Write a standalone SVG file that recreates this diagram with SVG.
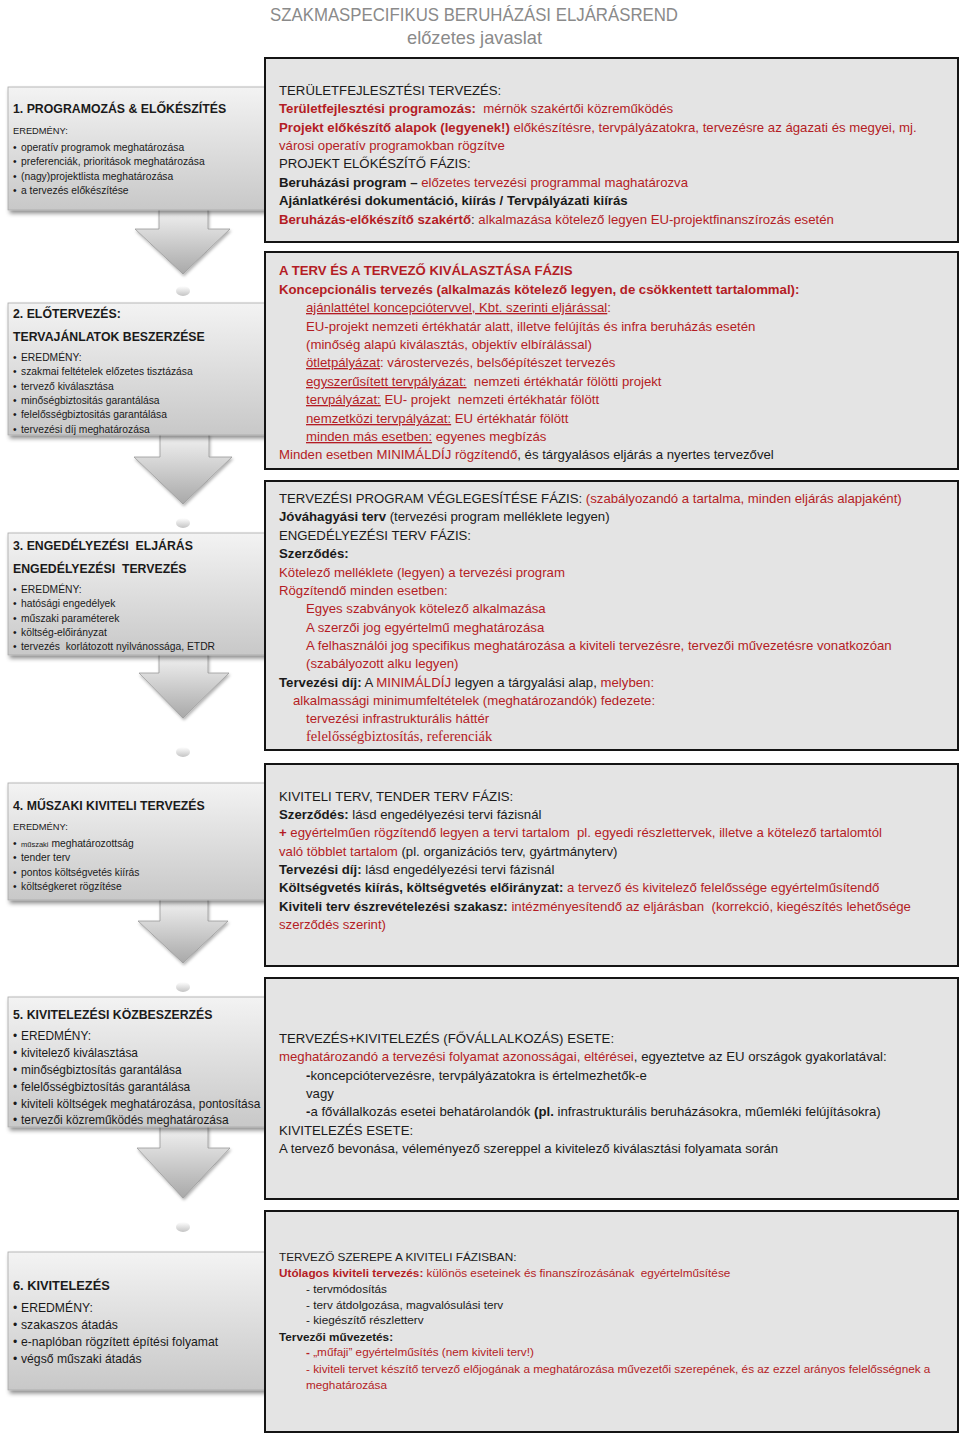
<svg xmlns="http://www.w3.org/2000/svg" width="960" height="1435" viewBox="0 0 960 1435">
<defs>
<style>
.t{font-family:"Liberation Sans",Arial,sans-serif;font-size:13.2px;fill:#1a1a1a}
.s{font-size:11.75px}
.l{font-family:"Liberation Sans",Arial,sans-serif;font-size:10.3px;fill:#1a1a1a}
.m{font-size:11.9px}
.h{font-family:"Liberation Sans",Arial,sans-serif;font-size:12.3px;font-weight:bold;fill:#1a1a1a}
.r{fill:#b41c24}
.b{font-weight:bold}
.u{text-decoration:underline}
.serif{font-family:"Liberation Serif","Times New Roman",serif}
.title{font-family:"Liberation Sans",Arial,sans-serif;font-size:19px;fill:#8a8a8a}
.rbox{fill:#e4e4e4;stroke:#141414;stroke-width:2}
.lbox{fill:url(#lg);stroke:#a8a8a8;stroke-width:0.8;filter:url(#sh)}
.arr{fill:url(#ag);stroke:#9a9a9a;stroke-width:0.8;filter:url(#sh2)}
.blob{fill:url(#bg)}
</style>
<linearGradient id="lg" x1="0" y1="0" x2="0" y2="1">
<stop offset="0" stop-color="#f3f3f3"/><stop offset="1" stop-color="#c8c8c8"/>
</linearGradient>
<linearGradient id="ag" x1="0" y1="0" x2="0" y2="1">
<stop offset="0" stop-color="#f2f2f2"/><stop offset="1" stop-color="#a9a9a9"/>
</linearGradient>
<linearGradient id="bg" x1="0" y1="0" x2="0" y2="1">
<stop offset="0" stop-color="#ffffff"/><stop offset="1" stop-color="#c4c4c4"/>
</linearGradient>
<filter id="sh" x="-5%" y="-5%" width="115%" height="125%">
<feDropShadow dx="2" dy="3" stdDeviation="2" flood-color="#000" flood-opacity="0.45"/>
</filter>
<filter id="sh2" x="-10%" y="-10%" width="130%" height="130%">
<feDropShadow dx="1" dy="2" stdDeviation="1.5" flood-color="#000" flood-opacity="0.3"/>
</filter>
</defs>
<rect width="960" height="1435" fill="#ffffff"/>

<g id="title">
<text class="title" x="270" y="21" textLength="408" lengthAdjust="spacingAndGlyphs">SZAKMASPECIFIKUS BERUHÁZÁSI ELJÁRÁSREND</text>
<text class="title" x="407" y="44" textLength="135" lengthAdjust="spacingAndGlyphs">előzetes javaslat</text>
</g>

<g id="connectors">
<path class="arr" d="M159,209 H208 V229 H230 L183,274 L135,229 H159 Z"/>
<ellipse class="blob" cx="183" cy="291" rx="7" ry="5"/>
<path class="arr" d="M160,434 H209 V457 H232 L183,504 L134,457 H160 Z"/>
<ellipse class="blob" cx="183" cy="523" rx="7" ry="5"/>
<path class="arr" d="M159,654 H208 V673 H229 L183,718 L139,673 H159 Z"/>
<ellipse class="blob" cx="183" cy="752" rx="7" ry="5"/>
<path class="arr" d="M160,899 H208 V921 H228 L183,963 L138,921 H160 Z"/>
<ellipse class="blob" cx="183" cy="987" rx="7" ry="5"/>
<path class="arr" d="M160,1126 H208 V1148 H230 L183,1198 L137,1148 H160 Z"/>
<ellipse class="blob" cx="183" cy="1227" rx="7" ry="5"/>
</g>

<g id="node-1">
<rect class="lbox" x="8" y="87" width="258" height="123"/>
<text class="h" x="13" y="113">1. PROGRAMOZÁS &amp; ELŐKÉSZÍTÉS</text>
<text class="l" x="13" y="134" style="font-size:9.3px">EREDMÉNY:</text>
<text class="l" x="13" y="151">•<tspan x="21">operatív programok meghatározása</tspan></text>
<text class="l" x="13" y="165">•<tspan x="21">preferenciák, prioritások meghatározása</tspan></text>
<text class="l" x="13" y="180">•<tspan x="21">(nagy)projektlista meghatározása</tspan></text>
<text class="l" x="13" y="194">•<tspan x="21">a tervezés előkészítése</tspan></text>
</g>

<g id="node-2">
<rect class="lbox" x="8" y="303" width="258" height="132"/>
<text class="h" x="13" y="318">2. ELŐTERVEZÉS:</text>
<text class="h" x="13" y="341">TERVAJÁNLATOK BESZERZÉSE</text>
<text class="l" x="13" y="361">•<tspan x="21">EREDMÉNY:</tspan></text>
<text class="l" x="13" y="375">•<tspan x="21">szakmai feltételek előzetes tisztázása</tspan></text>
<text class="l" x="13" y="390">•<tspan x="21">tervező kiválasztása</tspan></text>
<text class="l" x="13" y="404">•<tspan x="21">minőségbiztositás garantálása</tspan></text>
<text class="l" x="13" y="418">•<tspan x="21">felelősségbiztositás garantálása</tspan></text>
<text class="l" x="13" y="433">•<tspan x="21">tervezési díj meghatározása</tspan></text>
</g>

<g id="node-3">
<rect class="lbox" x="8" y="533" width="258" height="122"/>
<text class="h" x="13" y="550" xml:space="preserve">3. ENGEDÉLYEZÉSI  ELJÁRÁS</text>
<text class="h" x="13" y="573" xml:space="preserve">ENGEDÉLYEZÉSI  TERVEZÉS</text>
<text class="l" x="13" y="593">•<tspan x="21">EREDMÉNY:</tspan></text>
<text class="l" x="13" y="607">•<tspan x="21">hatósági engedélyek</tspan></text>
<text class="l" x="13" y="622">•<tspan x="21">műszaki paraméterek</tspan></text>
<text class="l" x="13" y="636">•<tspan x="21">költség-előirányzat</tspan></text>
<text class="l" x="13" y="650" xml:space="preserve">•<tspan x="21">tervezés  korlátozott nyilvánossága, ETDR</tspan></text>
</g>

<g id="node-4">
<rect class="lbox" x="8" y="783" width="258" height="117"/>
<text class="h" x="13" y="810">4. MŰSZAKI KIVITELI TERVEZÉS</text>
<text class="l" x="13" y="830" style="font-size:9.3px">EREDMÉNY:</text>
<text class="l" x="13" y="847">•<tspan x="21" style="font-size:7.5px">műszaki</tspan> meghatározottság</text>
<text class="l" x="13" y="861">•<tspan x="21">tender terv</tspan></text>
<text class="l" x="13" y="876">•<tspan x="21">pontos költségvetés kiírás</tspan></text>
<text class="l" x="13" y="890">•<tspan x="21">költségkeret rögzítése</tspan></text>
</g>

<g id="node-5">
<rect class="lbox" x="8" y="997" width="258" height="130"/>
<text class="h" x="13" y="1019">5. KIVITELEZÉSI KÖZBESZERZÉS</text>
<text class="l m" x="13" y="1040">•<tspan x="21">EREDMÉNY:</tspan></text>
<text class="l m" x="13" y="1057">•<tspan x="21">kivitelező kiválasztása</tspan></text>
<text class="l m" x="13" y="1074">•<tspan x="21">minőségbiztosítás garantálása</tspan></text>
<text class="l m" x="13" y="1091">•<tspan x="21">felelősségbiztosítás garantálása</tspan></text>
<text class="l m" x="13" y="1108">•<tspan x="21">kiviteli költségek meghatározása, pontosítása</tspan></text>
<text class="l m" x="13" y="1124">•<tspan x="21">tervezői közreműködés meghatározása</tspan></text>
</g>

<g id="node-6">
<rect class="lbox" x="8" y="1252" width="258" height="138"/>
<text class="h" x="13" y="1290" style="font-size:12.8px">6. KIVITELEZÉS</text>
<text class="l" x="13" y="1312" style="font-size:12.2px">•<tspan x="21">EREDMÉNY:</tspan></text>
<text class="l" x="13" y="1329" style="font-size:12.2px">•<tspan x="21">szakaszos átadás</tspan></text>
<text class="l" x="13" y="1346" style="font-size:12.2px">•<tspan x="21">e-naplóban rögzített építési folyamat</tspan></text>
<text class="l" x="13" y="1363" style="font-size:12.2px">•<tspan x="21">végső műszaki átadás</tspan></text>
</g>

<g id="detail-1">
<rect class="rbox" x="265" y="58" width="693" height="184"/>
<text class="t" x="279" y="95">TERÜLETFEJLESZTÉSI TERVEZÉS:</text>
<text class="t r" x="279" y="113" xml:space="preserve"><tspan class="b">Területfejlesztési programozás:</tspan>  mérnök szakértői közreműködés</text>
<text class="t r" x="279" y="132"><tspan class="b">Projekt előkészítő alapok (legyenek!)</tspan> előkészítésre, tervpályázatokra, tervezésre az ágazati és megyei, mj.</text>
<text class="t r" x="279" y="150">városi operatív programokban rögzítve</text>
<text class="t" x="279" y="168">PROJEKT ELŐKÉSZÍTŐ FÁZIS:</text>
<text class="t" x="279" y="187"><tspan class="b">Beruházási program –</tspan><tspan class="r"> előzetes tervezési programmal maghatározva</tspan></text>
<text class="t b" x="279" y="205">Ajánlatkérési dokumentáció, kiírás / Tervpályázati kiírás</text>
<text class="t" x="279" y="224"><tspan class="b r">Beruházás-előkészítő szakértő</tspan>:<tspan class="r"> alkalmazása kötelező legyen EU-projektfinanszírozás esetén</tspan></text>
</g>

<g id="detail-2">
<rect class="rbox" x="265" y="252" width="693" height="217"/>
<text class="t r b" x="279" y="275">A TERV ÉS A TERVEZŐ KIVÁLASZTÁSA FÁZIS</text>
<text class="t r b" x="279" y="294">Koncepcionális tervezés (alkalmazás kötelező legyen, de csökkentett tartalommal):</text>
<text class="t r" x="306" y="312"><tspan class="u">ajánlattétel koncepciótervvel, Kbt. szerinti eljárással</tspan>:</text>
<text class="t r" x="306" y="331">EU-projekt nemzeti értékhatár alatt, illetve felújítás és infra beruházás esetén</text>
<text class="t r" x="306" y="349">(minőség alapú kiválasztás, objektív elbírálással)</text>
<text class="t r" x="306" y="367"><tspan class="u">ötletpályázat</tspan>: várostervezés, belsőépítészet tervezés</text>
<text class="t r" x="306" y="386" xml:space="preserve"><tspan class="u">egyszerűsített tervpályázat:</tspan>  nemzeti értékhatár fölötti projekt</text>
<text class="t r" x="306" y="404" xml:space="preserve"><tspan class="u">tervpályázat:</tspan> EU- projekt  nemzeti értékhatár fölött</text>
<text class="t r" x="306" y="423"><tspan class="u">nemzetközi tervpályázat:</tspan> EU értékhatár fölött</text>
<text class="t r" x="306" y="441"><tspan class="u">minden más esetben:</tspan> egyenes megbízás</text>
<text class="t" x="279" y="459"><tspan class="r">Minden esetben MINIMÁLDÍJ rögzítendő</tspan>, és tárgyalásos eljárás a nyertes tervezővel</text>
</g>

<g id="detail-3">
<rect class="rbox" x="265" y="481" width="693" height="269"/>
<text class="t" x="279" y="503">TERVEZÉSI PROGRAM VÉGLEGESÍTÉSE FÁZIS: <tspan class="r">(szabályozandó a tartalma, minden eljárás alapjaként)</tspan></text>
<text class="t" x="279" y="521"><tspan class="b">Jóváhagyási terv</tspan> (tervezési program melléklete legyen)</text>
<text class="t" x="279" y="540">ENGEDÉLYEZÉSI TERV FÁZIS:</text>
<text class="t b" x="279" y="558">Szerződés:</text>
<text class="t r" x="279" y="577">Kötelező melléklete (legyen) a tervezési program</text>
<text class="t r" x="279" y="595">Rögzítendő minden esetben:</text>
<text class="t r" x="306" y="613">Egyes szabványok kötelező alkalmazása</text>
<text class="t r" x="306" y="632">A szerzői jog egyértelmű meghatározása</text>
<text class="t r" x="306" y="650">A felhasználói jog specifikus meghatározása a kiviteli tervezésre, tervezői művezetésre vonatkozóan</text>
<text class="t r" x="306" y="668">(szabályozott alku legyen)</text>
<text class="t" x="279" y="687"><tspan class="b">Tervezési díj:</tspan> A <tspan class="r">MINIMÁLDÍJ</tspan> legyen a tárgyalási alap, <tspan class="r">melyben:</tspan></text>
<text class="t r" x="293" y="705">alkalmassági minimumfeltételek (meghatározandók) fedezete:</text>
<text class="t r" x="306" y="723">tervezési infrastrukturális háttér</text>
<text class="t r serif" x="306" y="741" style="font-size:14.6px">felelősségbiztosítás, referenciák</text>
</g>

<g id="detail-4">
<rect class="rbox" x="265" y="764" width="693" height="202"/>
<text class="t" x="279" y="801">KIVITELI TERV, TENDER TERV FÁZIS:</text>
<text class="t" x="279" y="819"><tspan class="b">Szerződés:</tspan> lásd engedélyezési tervi fázisnál</text>
<text class="t r" x="279" y="837" xml:space="preserve"><tspan class="b">+</tspan> egyértelműen rögzítendő legyen a tervi tartalom  pl. egyedi részlettervek, illetve a kötelező tartalomtól</text>
<text class="t" x="279" y="856"><tspan class="r">való többlet tartalom</tspan> (pl. organizációs terv, gyártmányterv)</text>
<text class="t" x="279" y="874"><tspan class="b">Tervezési díj:</tspan> lásd engedélyezési tervi fázisnál</text>
<text class="t" x="279" y="892"><tspan class="b">Költségvetés kiírás, költségvetés előirányzat:</tspan><tspan class="r"> a tervező és kivitelező felelőssége egyértelműsítendő</tspan></text>
<text class="t" x="279" y="911" xml:space="preserve"><tspan class="b">Kiviteli terv észrevételezési szakasz:</tspan><tspan class="r"> intézményesítendő az eljárásban  (korrekció, kiegészítés lehetősége</tspan></text>
<text class="t r" x="279" y="929">szerződés szerint)</text>
</g>

<g id="detail-5">
<rect class="rbox" x="265" y="978" width="693" height="221"/>
<text class="t" x="279" y="1043">TERVEZÉS+KIVITELEZÉS (FŐVÁLLALKOZÁS) ESETE:</text>
<text class="t" x="279" y="1061"><tspan class="r">meghatározandó a tervezési folyamat azonosságai, eltérései</tspan>, egyeztetve az EU országok gyakorlatával:</text>
<text class="t" x="306" y="1080"><tspan class="b">-</tspan>koncepciótervezésre, tervpályázatokra is értelmezhetők-e</text>
<text class="t" x="306" y="1098">vagy</text>
<text class="t" x="306" y="1116"><tspan class="b">-</tspan>a fővállalkozás esetei behatárolandók <tspan class="b">(pl.</tspan> infrastrukturális beruházásokra, műemléki felújításokra)</text>
<text class="t" x="279" y="1135">KIVITELEZÉS ESETE:</text>
<text class="t" x="279" y="1153">A tervező bevonása, véleményező szereppel a kivitelező kiválasztási folyamata során</text>
</g>

<g id="detail-6">
<rect class="rbox" x="265" y="1211" width="693" height="221"/>
<text class="t s" x="279" y="1261">TERVEZŐ SZEREPE A KIVITELI FÁZISBAN:</text>
<text class="t s r" x="279" y="1277" xml:space="preserve"><tspan class="b">Utólagos kiviteli tervezés:</tspan> különös eseteinek és finanszírozásának  egyértelműsítése</text>
<text class="t s" x="306" y="1293">- tervmódosítás</text>
<text class="t s" x="306" y="1309">- terv átdolgozása, magvalósulási terv</text>
<text class="t s" x="306" y="1324">- kiegészítő részletterv</text>
<text class="t s b" x="279" y="1341">Tervezői művezetés:</text>
<text class="t s r" x="306" y="1356"><tspan class="b">-</tspan> „műfaji” egyértelműsítés (nem kiviteli terv!)</text>
<text class="t s r" x="306" y="1373">- kiviteli tervet készítő tervező előjogának a meghatározása művezetői szerepének, és az ezzel arányos felelősségnek a</text>
<text class="t s r" x="306" y="1389">meghatározása</text>
</g>
</svg>
